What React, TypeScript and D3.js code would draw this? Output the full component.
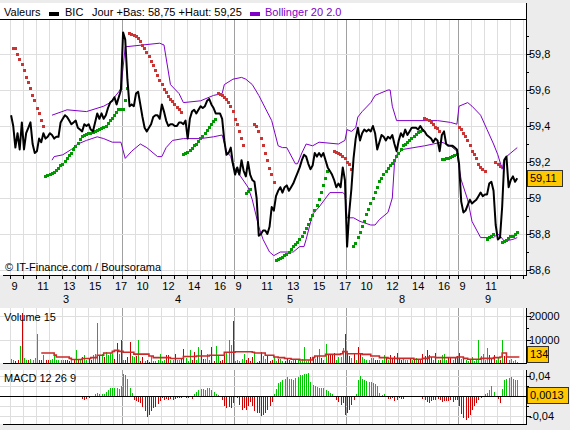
import React, { useEffect, useRef } from "react";
import * as d3 from "d3";

// 10-minute bars, 52 per session
const BARS_PER_DAY = 52;
const dayLabels = ["3", "4", "5", "8", "9"];
const hourLabels = [
  [9, 11, 13, 15, 17],
  [10, 12, 14, 16],
  [9, 11, 13, 15, 17],
  [10, 12, 14, 16],
  [9, 11],
];

const close3 = [
  59.46, 59.4, 59.28, 59.36, 59.27, 59.42, 59.27, 59.36, 59.39, 59.42,
  59.3, 59.25, 59.26, 59.33, 59.31, 59.36, 59.33, 59.34, 59.36, 59.35,
  59.33, 59.34, 59.34, 59.42, 59.44, 59.46, 59.45, 59.43, 59.41, 59.42,
  59.43, 59.39, 59.38, 59.37, 59.41, 59.4, 59.41, 59.38, 59.37, 59.42,
  59.47, 59.44, 59.47, 59.44, 59.46, 59.5, 59.53, 59.54, 59.56, 59.52,
  59.56, 59.6,
];
const close4 = [
  59.92, 59.88, 59.66, 59.51, 59.52, 59.51, 59.58, 59.59, 59.52, 59.45,
  59.39, 59.37, 59.39, 59.41, 59.45, 59.46, 59.46, 59.44, 59.52, 59.48,
  59.43, 59.4, 59.41, 59.41, 59.4, 59.4, 59.42, 59.42, 59.41, 59.43,
  59.33, 59.44, 59.48, 59.49, 59.47, 59.49, 59.51, 59.5, 59.51, 59.54,
  59.55, 59.52, 59.5, 59.47, 59.47, 59.47, 59.44, 59.32, 59.24, 59.25,
  59.28, 59.19,
];
const close5 = [
  59.13, 59.17, 59.13, 59.21, 59.15, 59.12, 59.2, 59.13, 59.1, 59.09,
  59.0, 58.79, 58.8, 58.82, 58.82, 58.8, 58.84, 58.95, 58.93, 59.01,
  59.04, 59.06, 59.03, 59.06, 59.07, 59.04, 59.06, 59.08, 59.11, 59.14,
  59.17, 59.21, 59.24, 59.23, 59.19, 59.16, 59.18, 59.25, 59.23, 59.25,
  59.23, 59.25, 59.21, 59.17, 59.15, 59.13, 59.1, 59.06, 59.08, 59.06,
  59.17, 59.1,
];
const close8 = [
  58.73, 58.92, 59.05, 59.22, 59.33, 59.39, 59.32, 59.36, 59.38, 59.37,
  59.38, 59.37, 59.4, 59.36, 59.27, 59.31, 59.35, 59.34, 59.32, 59.34,
  59.33, 59.35, 59.3, 59.26, 59.32, 59.36, 59.34, 59.38, 59.35, 59.37,
  59.39, 59.39, 59.39, 59.38, 59.4, 59.38, 59.37, 59.35, 59.34, 59.33,
  59.31, 59.33, 59.32, 59.26, 59.35, 59.37, 59.3, 59.29, 59.29, 59.29,
  59.28, 59.27,
];
const close9 = [
  59.19, 58.98, 58.92, 58.93, 58.96, 58.99, 58.97, 58.98, 58.99, 59.01,
  59.03, 59.01, 59.02, 59.02, 59.08, 59.09, 59.04, 58.85, 58.77, 58.78,
  58.95, 59.21, 59.23, 59.06, 59.1, 59.12, 59.09, 59.11,
];

// Bollinger 20 2.0 : [bar, value]
const bollUpper: [number, number][] = [
  [19, 59.46], [26, 59.49], [35, 59.48], [43, 59.51], [46, 59.53], [50, 59.59],
  [51, 59.61], [53, 59.84], [69, 59.86], [71, 59.85], [74, 59.63], [78, 59.58],
  [80, 59.53], [88, 59.54], [94, 59.57], [98, 59.58], [99, 59.63], [103, 59.66],
  [107, 59.67], [109, 59.66], [112, 59.63], [115, 59.57], [118, 59.5], [121, 59.43],
  [124, 59.29], [126, 59.28], [128, 59.28], [132, 59.19], [133, 59.19], [135, 59.25],
  [137, 59.3], [140, 59.29], [143, 59.31], [152, 59.3], [155, 59.32], [156, 59.38],
  [158, 59.37], [160, 59.39], [161, 59.45], [163, 59.48], [167, 59.53], [169, 59.57],
  [171, 59.58], [175, 59.6], [176, 59.6], [177, 59.51], [179, 59.43], [198, 59.43],
  [204, 59.42], [207, 59.41], [208, 59.51], [212, 59.53], [214, 59.51], [218, 59.46],
  [221, 59.38], [224, 59.3], [226, 59.24], [228, 59.16], [229, 59.22], [232, 59.25],
  [235, 59.28],
];
const bollLower: [number, number][] = [
  [19, 59.21], [20, 59.23], [24, 59.24], [28, 59.27], [31, 59.3], [35, 59.32],
  [40, 59.34], [43, 59.33], [47, 59.31], [51, 59.31], [53, 59.22], [56, 59.26],
  [60, 59.3], [63, 59.28], [68, 59.23], [70, 59.23], [72, 59.28], [75, 59.32],
  [80, 59.33], [88, 59.33], [94, 59.34], [98, 59.35], [100, 59.26], [102, 59.23],
  [103, 59.18], [106, 59.13], [110, 59.06], [112, 58.99], [115, 58.84], [117, 58.77],
  [120, 58.7], [122, 58.68], [125, 58.7], [131, 58.7], [134, 58.73], [136, 58.73],
  [137, 58.77], [140, 58.91], [143, 58.95], [148, 59.03], [154, 59.03], [155, 59.02],
  [156, 58.89], [159, 58.89], [162, 58.87], [167, 58.85], [169, 58.85], [171, 58.88],
  [175, 58.92], [177, 59.0], [178, 59.19], [179, 59.24], [182, 59.27], [192, 59.29],
  [196, 59.3], [200, 59.31], [204, 59.29], [207, 59.26], [208, 59.17], [209, 59.1],
  [212, 58.99], [214, 58.87], [218, 58.78], [221, 58.78], [224, 58.78], [226, 58.8],
  [227, 58.79], [229, 58.76], [233, 58.77], [235, 58.78],
];

// Parabolic SAR runs: first bar, values
const sarRuns: { from: number; values: number[] }[] = [
  { from: 1, values: [59.83, 59.83, 59.8, 59.77, 59.74, 59.71, 59.67, 59.64, 59.61, 59.57, 59.54, 59.5, 59.47, 59.43, 59.4] },
  { from: 16, values: [59.12, 59.125, 59.13, 59.135, 59.145, 59.155, 59.165, 59.18, 59.19, 59.205, 59.22, 59.235, 59.25, 59.27, 59.285, 59.305, 59.325, 59.34, 59.35, 59.355, 59.36, 59.36, 59.365, 59.37, 59.375, 59.38, 59.385, 59.39, 59.4, 59.415, 59.43, 59.445, 59.46, 59.475, 59.49, 59.49, 59.49, 59.54, 59.61] },
  { from: 55, values: [59.915, 59.91, 59.905, 59.9, 59.885, 59.87, 59.85, 59.83, 59.81, 59.785, 59.76, 59.735, 59.71, 59.68, 59.655, 59.63, 59.605, 59.585, 59.565, 59.55, 59.535, 59.52, 59.505, 59.49, 59.475] },
  { from: 80, values: [59.245, 59.25, 59.255, 59.265, 59.275, 59.29, 59.3, 59.315, 59.33, 59.345, 59.36, 59.375, 59.395, 59.41, 59.425, 59.44] },
  { from: 96, values: [59.58, 59.575, 59.57, 59.56, 59.55, 59.53, 59.51, 59.48, 59.44, 59.41, 59.37, 59.33, 59.29] },
  { from: 109, values: [59.025, 59.035, 59.05] },
  { from: 113, values: [59.41, 59.4, 59.37, 59.33, 59.29, 59.25, 59.21, 59.165, 59.13, 59.085] },
  { from: 123, values: [58.655, 58.66, 58.665, 58.67, 58.68, 58.69, 58.7, 58.715, 58.73, 58.74, 58.755, 58.77, 58.79, 58.81, 58.83, 58.855, 58.88, 58.905, 58.93, 58.96, 58.99, 59.03, 59.07, 59.11, 59.15] },
  { from: 150, values: [59.26, 59.255, 59.25, 59.24, 59.23, 59.22, 59.2, 59.19, 59.16] },
  { from: 159, values: [58.73, 58.75, 58.78, 58.81, 58.84, 58.87, 58.91, 58.94, 58.97, 59.0, 59.03, 59.06, 59.09, 59.11, 59.13, 59.15, 59.165, 59.18, 59.195, 59.21, 59.23, 59.25, 59.27, 59.29, 59.3, 59.31, 59.32, 59.33, 59.34, 59.355, 59.365, 59.37, 59.375] },
  { from: 192, values: [59.445, 59.44, 59.43, 59.42, 59.41, 59.395, 59.385, 59.37] },
  { from: 200, values: [59.215, 59.217, 59.22, 59.223, 59.227, 59.23, 59.235, 59.24] },
  { from: 208, values: [59.39, 59.38, 59.36, 59.34, 59.32, 59.29, 59.26, 59.24, 59.22, 59.19, 59.17, 59.16, 59.15] },
  { from: 221, values: [58.77, 58.78, 58.79, 58.8] },
  { from: 225, values: [59.196, 59.19, 59.175] },
  { from: 228, values: [58.755, 58.76, 58.765, 58.775, 58.785, 58.79, 58.8, 58.81] },
];

// volume per bar, and tick direction (+ up, - down)
const vol3 = [
  1600, 1400, 1000, 1100, 7100, 21400, 2300, 1400, 1100, 1700,
  1100, 2100, 12400, 1400, 1400, 3300, 1100, 1200, 1300, 1900,
  3300, 1300, 1200, 1300, 1200, 1500, 1500, 900, 1600, 1200,
  5700, 1200, 1800, 2600, 3300, 1500, 2200, 1200, 3500, 3800,
  17300, 2900, 3700, 2500, 4700, 3300, 4400, 3700, 1900, 8700,
  3900, 10000,
];
const vol4 = [
  1500, 1200, 2500, 9200, 3000, 2700, 3000, 10000, 800, 2700,
  800, 1200, 600, 2800, 800, 800, 1200, 3800, 800, 1500,
  3400, 3300, 1200, 1500, 3800, 1500, 1200, 1800, 5900, 2200,
  800, 5400, 1500, 4600, 1500, 6900, 5400, 1800, 1800, 3800,
  1500, 6900, 800, 7400, 3000, 800, 1500, 3400, 4900, 10000,
  7700, 18000,
];
const vol5 = [
  700, 1200, 800, 1600, 4000, 1200, 2000, 800, 2400, 4700,
  600, 1000, 4700, 2900, 1800, 3000, 800, 1200, 2600, 800,
  1800, 1800, 1000, 700, 1800, 1500, 700, 1800, 1200, 1800,
  1000, 1900, 6900, 900, 1200, 2600, 2600, 1900, 3000, 5900,
  2000, 1500, 8000, 4000, 3700, 3400, 4300, 1200, 2600, 2600,
  6600, 12300,
];
const vol8 = [
  3700, 3000, 2300, 4000, 1100, 6900, 4400, 2600, 1600, 1100,
  1100, 2000, 2000, 1100, 1100, 1300, 1500, 3400, 2300, 1200,
  3400, 2300, 3000, 4300, 2300, 1500, 1900, 1100, 1500, 2300,
  1100, 1500, 2300, 1500, 1500, 4000, 3200, 5700, 3400, 2600,
  1500, 4300, 1100, 1500, 3400, 4000, 1500, 2300, 2600, 1100,
  2300, 3000,
];
const vol9 = [
  4400, 1800, 2400, 1500, 800, 1500, 2400, 900, 1500, 9700,
  3000, 3800, 1200, 6300, 3600, 2100, 3600, 1500, 2300, 1200,
  9700, 3000, 4000, 1500, 1800, 800, 1200, 600,
];
const volDir3 = "++--+-++-+" + "+++--+--++" + "+++++---+-" + "+-+-++--++" + "+-+-++++--" + "+-";
const volDir4 = "+---++-+--" + "+--+++++++" + "--++-++--+" + "++--++--++" + "+--++---++" + "+-";
const volDir5 = "+++++----+" + "+--++---++" + "-++---++-+" + "+++++--+-+" + "-++----+++" + "+-";
const volDir8 = "--+-+--+++" + "+++--+++-+" + "------+++-" + "+-+-------" + "+-+-+++--+" + "--";
const volDir9 = "-+-++-++++" + "++++---++-" + "+--+++++";

// Volume moving average (15): [bar, value]
const volAvg: [number, number][] = [
  [14, 4300], [19, 4300], [20, 3400], [21, 2600], [26, 2600], [27, 2000], [28, 1500],
  [32, 1500], [33, 1900], [37, 2300], [40, 3300], [43, 4300], [47, 5000], [48, 5400],
  [50, 5000], [52, 4600], [56, 4600], [57, 3800], [63, 3800], [64, 3000], [66, 2300],
  [71, 2300], [74, 1900], [79, 1900], [80, 2800], [86, 3000], [92, 3300], [98, 3300],
  [99, 4600], [104, 4800], [112, 4600], [113, 4300], [117, 4300], [118, 3300], [120, 3300],
  [122, 2600], [124, 2300], [127, 1900], [130, 1600], [134, 1300], [139, 1300], [140, 2300],
  [141, 3000], [146, 3700], [153, 4000], [154, 4900], [156, 4000], [160, 4000], [163, 3700],
  [167, 3000], [171, 2300], [175, 2000], [181, 2000], [187, 1600], [191, 2000], [194, 2600],
  [197, 2300], [203, 2300], [207, 2600], [210, 2000], [212, 1600], [217, 1600], [218, 2000],
  [224, 2300], [227, 2600], [228, 4300], [230, 2600], [236, 2600],
];

// MACD 12 26 9 histogram, from bar 33
const macdStart = 33;
const macdHist = [
  -0.0066, -0.008, -0.006, -0.004, -0.003, -0.001, 0.004, 0.005, 0.003, 0.004,
  0.004, 0.008, 0.012, 0.016, 0.016, 0.015, 0.016, 0.014, 0.02, 0.043,
  0.041, 0.034, 0.016, 0.006, -0.009, -0.01, -0.012, -0.015, -0.022, -0.03,
  -0.041, -0.038, -0.031, -0.025, -0.023, -0.016, -0.01, -0.005, -0.008, -0.006,
  -0.008, -0.007, -0.009, -0.007, -0.005, -0.004, -0.005, -0.003, -0.005, -0.004,
  -0.002, -0.006, 0.004, 0.008, 0.011, 0.013, 0.013, 0.012, 0.016, 0.016,
  0.012, 0.008, 0.004, 0.002, -0.001, -0.0085, -0.02, -0.025, -0.023, -0.025,
  -0.015, -0.002, -0.005, -0.018, -0.028, -0.025, -0.028, -0.02, -0.012, -0.02,
  -0.031, -0.035, -0.035, -0.04, -0.038, -0.035, -0.028, -0.02, -0.012, 0.003,
  0.014, 0.026, 0.028, 0.031, 0.034, 0.037, 0.034, 0.033, 0.031, 0.035,
  0.037, 0.041, 0.041, 0.043, 0.043, 0.044, 0.028, 0.021, 0.019, 0.018,
  0.016, 0.016, 0.016, 0.012, 0.01, 0.006, 0.003, -0.002, -0.0085, -0.012,
  -0.018, -0.015, -0.038, -0.035, -0.028, -0.018, -0.008, 0.003, 0.031, 0.039,
  0.034, 0.032, 0.029, 0.028, 0.028, 0.026, 0.024, 0.019, 0.005, 0.001,
  0.003, -0.002, -0.0066, -0.0066, -0.005, -0.01, -0.008, -0.005, -0.006, -0.007,
  -0.003, -0.003, -0.002, -0.002, -0.002, -0.003, -0.002, -0.003, -0.006, -0.0085,
  -0.012, -0.015, -0.01, -0.009, -0.009, -0.007, -0.009, -0.012, -0.011, -0.011,
  -0.011, -0.009, -0.012, -0.009, -0.009, -0.02, -0.036, -0.043, -0.047, -0.044,
  -0.038, -0.028, -0.02, -0.014, -0.0085, -0.005, -0.003, 0.003, 0.006, 0.012,
  0.019, 0.008, -0.003, -0.007, -0.014, 0.014, 0.031, 0.034, 0.036, 0.037,
  0.034, 0.031, 0.031,
];

const lastVolume = 134;
const lastMacd = 0.0013;

const priceTicks = d3.range(0, 14).map((k) => 58.6 + k * 0.1);
const volTicks = [5000, 10000, 15000, 20000];
const macdTicks = [-0.04, -0.02, 0.02, 0.04];

const FONT = "'Liberation Sans', Arial, sans-serif";
const PURPLE = "#8000c8";
const GRID = "#dedede";
const DAYLINE = "#a0a0a0";

const comma = (v: number, digits: number) => {
  const s = v.toFixed(digits);
  return (Number(s) === Math.round(Number(s)) && digits === 1 ? String(Math.round(v)) : s).replace(".", ",");
};

const App = () => {
  const svgRef = useRef<SVGSVGElement>(null);

  useEffect(() => {
    const closes = [...close3, ...close4, ...close5, ...close8, ...close9];
    const volumes = [...vol3, ...vol4, ...vol5, ...vol8, ...vol9];
    const volDir = volDir3 + volDir4 + volDir5 + volDir8 + volDir9;
    const dayLens = [close3.length, close4.length, close5.length, close8.length, close9.length];

    const sar: { i: number; v: number }[] = [];
    sarRuns.forEach((r) => r.values.forEach((v, k) => sar.push({ i: r.from + k, v })));

    const plotRight = 526;
    const svg = d3.select(svgRef.current);
    svg.selectAll("*").remove();

    const x = d3.scaleLinear().domain([0, 5 * BARS_PER_DAY]).range([10, 10 + 5 * 112]);
    const bx = (i: number) => x(i + 0.5);
    const yP = d3.scaleLinear().domain([58.6, 59.8]).range([270, 54]);
    const yV = d3.scaleLinear().domain([0, 20000]).range([363, 316.4]);
    const yM = d3.scaleLinear().domain([-0.04, 0.04]).range([416, 375.5]);

    svg.append("rect").attr("width", 570).attr("height", 430).attr("fill", "#ececec");

    const panels = [
      { top: 3, bottom: 275, plotTop: 19 },
      { top: 308, bottom: 363, plotTop: 308 },
      { top: 370, bottom: 424, plotTop: 370 },
    ];
    panels.forEach((p) =>
      svg.append("rect").attr("x", 0).attr("y", p.top).attr("width", plotRight).attr("height", p.bottom - p.top).attr("fill", "#fff")
    );

    // vertical grid: one line per hour, darker at session start
    const vlines: { x: number; day: boolean }[] = [];
    dayLabels.forEach((_, d) => {
      for (let h = 0; h <= 8; h++) {
        const xv = x(d * BARS_PER_DAY + h * 6);
        if (xv < plotRight) vlines.push({ x: Math.round(xv) + 0.5, day: d > 0 && h === 0 });
      }
    });
    const grid = svg.append("g").attr("shape-rendering", "crispEdges");
    panels.forEach((p) => {
      grid.selectAll(null).data(vlines).enter().append("line")
        .attr("x1", (d) => d.x).attr("x2", (d) => d.x)
        .attr("y1", p.plotTop).attr("y2", p.bottom)
        .attr("stroke", (d) => (d.day ? DAYLINE : GRID)).attr("stroke-width", 1);
    });
    const hgrid = (ys: number[]) =>
      grid.selectAll(null).data(ys).enter().append("line")
        .attr("x1", 0).attr("x2", plotRight)
        .attr("y1", (d) => Math.round(d) + 0.5).attr("y2", (d) => Math.round(d) + 0.5)
        .attr("stroke", GRID);
    hgrid(priceTicks.filter((_, k) => k % 2 === 0).map((v) => yP(v)));
    hgrid([yV(10000), yV(20000)]);
    hgrid(macdTicks.map((v) => yM(v)));

    // Bollinger bands
    const band = d3.line<[number, number]>().x((d) => bx(d[0])).y((d) => yP(d[1]));
    [bollUpper, bollLower].forEach((b) =>
      svg.append("path").attr("d", band(b)).attr("fill", "none").attr("stroke", PURPLE).attr("stroke-width", 1)
    );

    // parabolic SAR
    svg.append("g").attr("shape-rendering", "crispEdges").selectAll("rect").data(sar).enter().append("rect")
      .attr("x", (d) => Math.round(bx(d.i) - 1.3)).attr("y", (d) => Math.round(yP(d.v) - 1.3))
      .attr("width", 3).attr("height", 3)
      .attr("fill", (d) => (d.v > closes[d.i] ? "#cc3333" : "#009a00"));

    // price
    const priceLine = d3.line<number>().x((_, i) => bx(i)).y((d) => yP(d));
    svg.append("path").attr("d", priceLine(closes)).attr("fill", "none").attr("stroke", "#000").attr("stroke-width", 2).attr("stroke-linejoin", "round");

    // volume
    svg.append("g").attr("shape-rendering", "crispEdges").selectAll("rect").data(volumes).enter().append("rect")
      .attr("x", (_, i) => Math.round(bx(i))).attr("width", 1)
      .attr("y", (d) => yV(d)).attr("height", (d) => yV(0) - yV(d))
      .attr("fill", (_, i) => (volDir[i] === "+" ? "#00c800" : "#cc0000"));
    const avgLine = d3.line<[number, number]>().x((d) => bx(d[0])).y((d) => yV(d[1])).curve(d3.curveStepAfter);
    svg.append("path").attr("d", avgLine(volAvg)).attr("fill", "none").attr("stroke", "#cc2a2a").attr("stroke-width", 1.6);

    // MACD histogram
    svg.append("g").attr("shape-rendering", "crispEdges").selectAll("rect").data(macdHist).enter().append("rect")
      .attr("x", (_, k) => Math.round(bx(macdStart + k))).attr("width", 1)
      .attr("y", (d) => Math.min(yM(d), yM(0))).attr("height", (d) => Math.abs(yM(d) - yM(0)))
      .attr("fill", (d) => (d >= 0 ? "#00c800" : "#cc0000"));

    // frames and axes
    const axes = svg.append("g").attr("stroke", "#000").attr("shape-rendering", "crispEdges");
    axes.append("line").attr("x1", 0).attr("x2", plotRight).attr("y1", 19.5).attr("y2", 19.5);
    axes.append("line").attr("x1", 3).attr("x2", plotRight).attr("y1", 275.5).attr("y2", 275.5);
    axes.append("line").attr("x1", 3).attr("x2", plotRight).attr("y1", 363.5).attr("y2", 363.5);
    axes.append("line").attr("x1", 0).attr("x2", plotRight).attr("y1", Math.round(yM(0)) + 0.5).attr("y2", Math.round(yM(0)) + 0.5);
    axes.append("line").attr("x1", 3).attr("x2", plotRight).attr("y1", 424.5).attr("y2", 424.5);
    panels.forEach((p) => axes.append("line").attr("x1", plotRight + 0.5).attr("x2", plotRight + 0.5).attr("y1", p.top).attr("y2", p.bottom + 1));

    // x ticks under the price panel
    axes.selectAll(null).data(vlines).enter().append("line")
      .attr("x1", (d) => d.x).attr("x2", (d) => d.x).attr("y1", 276).attr("y2", 279);

    const rightTicks = (ys: { y: number; major: boolean }[]) =>
      axes.selectAll(null).data(ys).enter().append("line")
        .attr("x1", plotRight).attr("x2", (d) => plotRight + (d.major ? 5 : 3))
        .attr("y1", (d) => Math.round(d.y) + 0.5).attr("y2", (d) => Math.round(d.y) + 0.5);
    rightTicks(priceTicks.map((v, k) => ({ y: yP(v), major: k % 2 === 0 })));
    rightTicks(volTicks.map((v) => ({ y: yV(v), major: v % 10000 === 0 })));
    rightTicks(macdTicks.map((v) => ({ y: yM(v), major: Math.abs(v) > 0.03 })));

    const label = (s: string, xv: number, yv: number, anchor = "start", fill = "#000") =>
      svg.append("text").attr("x", xv).attr("y", yv).attr("text-anchor", anchor).attr("fill", fill)
        .attr("font-family", FONT).attr("font-size", 11).text(s);

    priceTicks.forEach((v, k) => {
      if (k % 2 === 0) label(comma(v, 1), plotRight + 3, yP(v) + 4);
    });
    [10000, 20000].forEach((v) => label(String(v), plotRight + 3, yV(v) + 4));
    label("0,04", plotRight + 3, yM(0.04) + 4);
    label("-0,04", plotRight + 3, yM(-0.04) + 4);

    // hour & day labels
    let start = 0;
    dayLabels.forEach((dl, d) => {
      hourLabels[d].forEach((h) => label(String(h), x(d * BARS_PER_DAY + (h - 9) * 6) + 1.5, 289.5));
      label(dl, bx(start + (dayLens[d] - 1) / 2), 303, "middle");
      start += dayLens[d];
    });

    // legend
    label("Valeurs", 4, 16);
    svg.append("rect").attr("x", 49).attr("y", 12).attr("width", 10).attr("height", 4).attr("fill", "#000");
    label("BIC", 65, 16);
    label("Jour +Bas: 58,75 +Haut: 59,25", 92, 16);
    svg.append("rect").attr("x", 250).attr("y", 12).attr("width", 10).attr("height", 4).attr("fill", PURPLE);
    label("Bollinger 20 2.0", 265, 16, "start", PURPLE);

    label("\u00a9 IT-Finance.com / Boursorama", 5, 271);
    label("Volume 15", 4, 320.5);
    label("MACD 12 26 9", 4, 382);

    // last value tags
    const tag = (s: string, yc: number, w: number) => {
      svg.append("rect").attr("x", plotRight + 1.5).attr("y", Math.round(yc - 8) + 0.5).attr("width", w).attr("height", 16)
        .attr("fill", "#ffc800").attr("stroke", "#333").attr("shape-rendering", "crispEdges");
      label(s, plotRight + 4, yc + 4);
    };
    const last = closes[closes.length - 1];
    tag(comma(last, 2), yP(last), 35);
    tag(String(lastVolume), 354, 21);
    tag(comma(lastMacd, 4), yM(lastMacd), 41);
  }, []);

  return (
    <svg
      ref={svgRef}
      width={570}
      height={430}
      style={{ position: "absolute", left: 0, top: 0 }}
    />
  );
};

export default App;
